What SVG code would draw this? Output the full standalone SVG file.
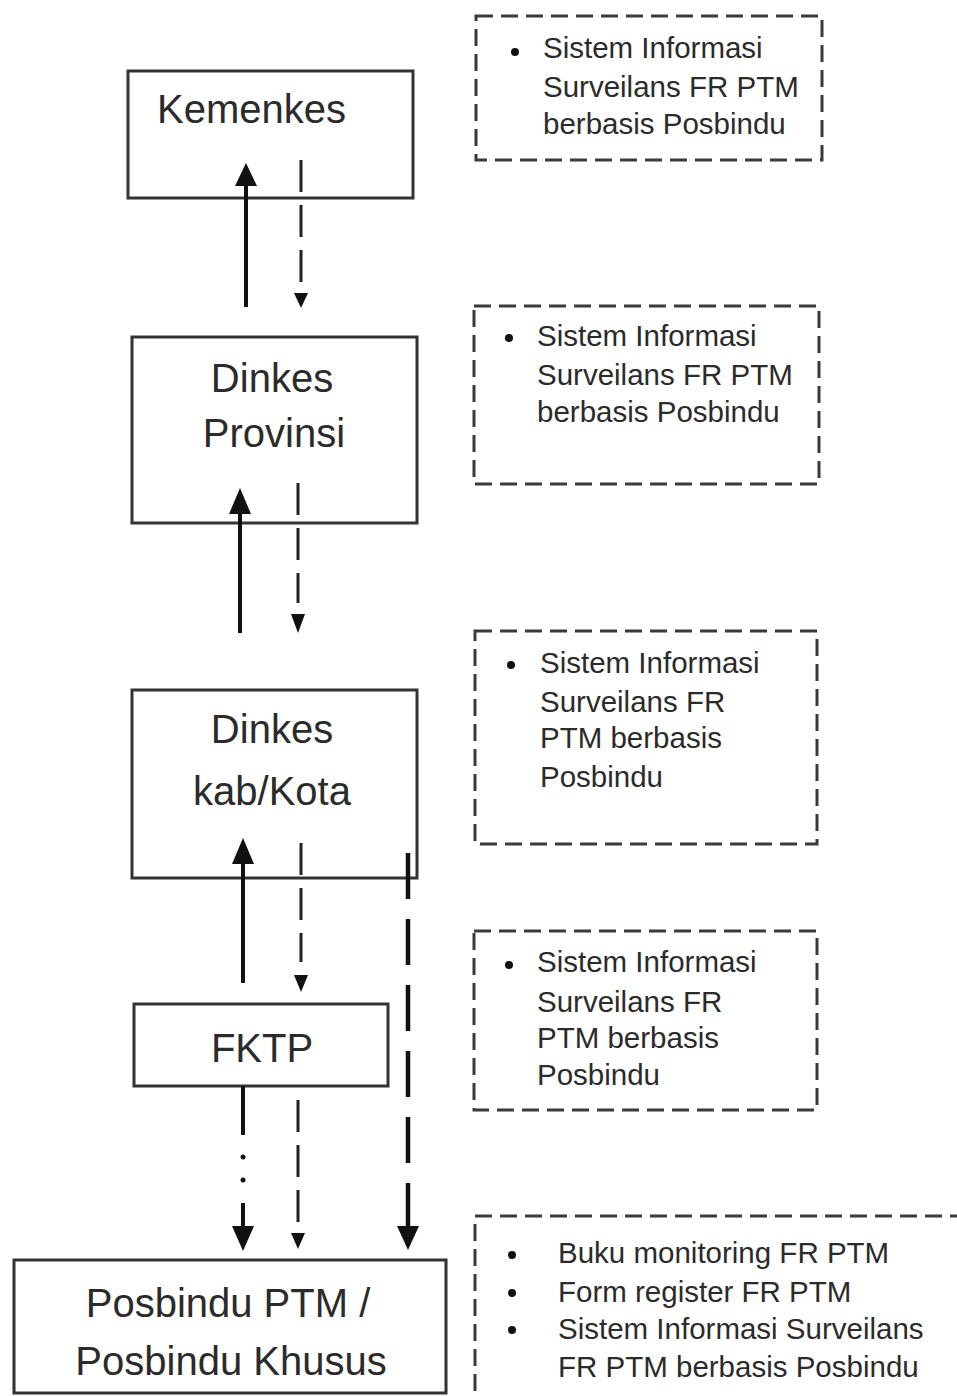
<svg xmlns="http://www.w3.org/2000/svg" width="957" height="1396" viewBox="0 0 957 1396">
<style>
.node{fill:#fff;stroke:#333;stroke-width:3}
.note{fill:none;stroke:#3a3a3a;stroke-width:3;stroke-dasharray:17 8}
.big{font-family:"Liberation Sans",Arial,sans-serif;font-size:40px;fill:#2b2b2b}
.sm{font-family:"Liberation Sans",Arial,sans-serif;font-size:29.5px;fill:#2b2b2b}
.solid{stroke:#111;stroke-width:4;fill:none}
.dash{stroke:#222;stroke-width:3;fill:none;stroke-dasharray:32 13}
.long{stroke:#111;stroke-width:4.5;fill:none;stroke-dasharray:46 20}
.head{fill:#111}
.bul{fill:#111}
</style>
<rect width="957" height="1396" fill="#fff"/>

<g id="kemenkes">
<rect class="node" x="128" y="71" width="285" height="127"/>
<text class="big" x="157" y="123">Kemenkes</text>
</g>
<g id="dinkes-provinsi">
<rect class="node" x="132" y="337" width="285" height="186"/>
<text class="big" x="272" y="392" text-anchor="middle">Dinkes</text>
<text class="big" x="274" y="447" text-anchor="middle">Provinsi</text>
</g>
<g id="dinkes-kab-kota">
<rect class="node" x="132" y="690" width="285" height="188"/>
<text class="big" x="272" y="743" text-anchor="middle">Dinkes</text>
<text class="big" x="272" y="805" text-anchor="middle">kab/Kota</text>
</g>
<g id="fktp">
<rect class="node" x="134" y="1004" width="254" height="82"/>
<text class="big" x="262" y="1062" text-anchor="middle">FKTP</text>
</g>
<g id="posbindu">
<rect class="node" x="14" y="1260" width="432" height="133"/>
<text class="big" x="228" y="1317" text-anchor="middle">Posbindu PTM /</text>
<text class="big" x="231" y="1375" text-anchor="middle">Posbindu Khusus</text>
</g>

<g id="note-kemenkes">
<rect class="note" x="476" y="16" width="346" height="144"/>
<circle class="bul" cx="515" cy="52" r="4"/>
<text class="sm" x="543" y="58">Sistem Informasi</text>
<text class="sm" x="543" y="97">Surveilans FR PTM</text>
<text class="sm" x="543" y="134">berbasis Posbindu</text>
</g>
<g id="note-provinsi">
<rect class="note" x="474" y="306" width="345" height="178"/>
<circle class="bul" cx="509" cy="338" r="4"/>
<text class="sm" x="537" y="346">Sistem Informasi</text>
<text class="sm" x="537" y="385">Surveilans FR PTM</text>
<text class="sm" x="537" y="422">berbasis Posbindu</text>
</g>
<g id="note-kabkota">
<rect class="note" x="475" y="631" width="342" height="213"/>
<circle class="bul" cx="511" cy="665" r="4"/>
<text class="sm" x="540" y="673">Sistem Informasi</text>
<text class="sm" x="540" y="712">Surveilans FR</text>
<text class="sm" x="540" y="748">PTM berbasis</text>
<text class="sm" x="540" y="787">Posbindu</text>
</g>
<g id="note-fktp">
<rect class="note" x="474" y="931" width="343" height="179"/>
<circle class="bul" cx="509" cy="965" r="4"/>
<text class="sm" x="537" y="972">Sistem Informasi</text>
<text class="sm" x="537" y="1012">Surveilans FR</text>
<text class="sm" x="537" y="1048">PTM berbasis</text>
<text class="sm" x="537" y="1085">Posbindu</text>
</g>
<g id="note-posbindu">
<rect class="note" x="475" y="1216" width="500" height="200"/>
<circle class="bul" cx="512" cy="1255" r="4"/>
<circle class="bul" cx="512" cy="1293" r="4"/>
<circle class="bul" cx="512" cy="1330" r="4"/>
<text class="sm" x="558" y="1263">Buku monitoring FR PTM</text>
<text class="sm" x="558" y="1302">Form register FR PTM</text>
<text class="sm" x="558" y="1339">Sistem Informasi Surveilans</text>
<text class="sm" x="558" y="1377">FR PTM berbasis Posbindu</text>
</g>

<g id="connectors">
<!-- Kemenkes <-> Provinsi -->
<line class="solid" x1="246" y1="307" x2="246" y2="183"/>
<polygon class="head" points="246,163 235,186 257,186"/>
<line class="dash" x1="301" y1="160" x2="301" y2="282"/>
<polygon class="head" points="301,308 294,293 308,293"/>
<!-- Provinsi <-> Kab/Kota -->
<line class="solid" x1="240" y1="633" x2="240" y2="511"/>
<polygon class="head" points="240,488 229,514 251,514"/>
<line class="dash" x1="298" y1="483" x2="298" y2="603"/>
<polygon class="head" points="298,633 291,614 305,614"/>
<!-- Kab/Kota <-> FKTP -->
<line class="solid" x1="243" y1="983" x2="243" y2="861"/>
<polygon class="head" points="243,838 232,864 254,864"/>
<line class="dash" x1="301" y1="843" x2="301" y2="962"/>
<polygon class="head" points="301,992 294,975 308,975"/>
<!-- Kab/Kota -> Posbindu -->
<line class="long" x1="408" y1="853" x2="408" y2="1229"/>
<polygon class="head" points="408,1250 397,1226 419,1226"/>
<!-- FKTP -> Posbindu -->
<line class="solid" x1="243" y1="1086" x2="243" y2="1135"/>
<circle class="head" cx="243" cy="1157" r="2.5"/>
<circle class="head" cx="243" cy="1180" r="2.5"/>
<line class="solid" x1="243" y1="1203" x2="243" y2="1230"/>
<polygon class="head" points="243,1251 232,1226 254,1226"/>
<line class="dash" x1="298" y1="1100" x2="298" y2="1232"/>
<polygon class="head" points="298,1249 291,1233 305,1233"/>
</g>
</svg>
